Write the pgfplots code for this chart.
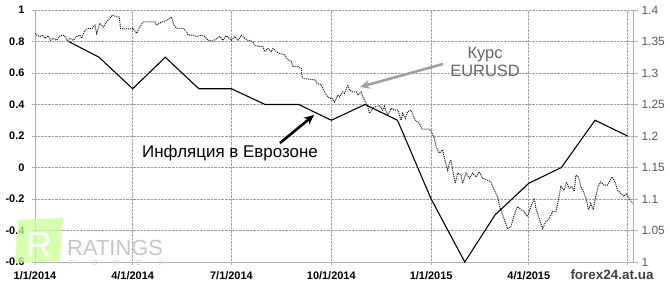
\documentclass[border=0pt]{standalone}
\usepackage{fontspec}
\setmainfont{Liberation Sans}
\usepackage{pgfplots}
\usepackage{pgfplotstable}
\pgfplotsset{compat=1.18}
\usetikzlibrary{arrows.meta}

\pgfplotstableread{
day infl
31 0.8
59 0.7
90 0.5
120 0.7
151 0.5
181 0.5
212 0.4
243 0.4
273 0.3
304 0.4
334 0.3
365 -0.2
396 -0.6
424 -0.3
455 -0.1
485 0.0
516 0.3
546 0.2
}\inflation

\pgfplotstableread{
day rate
0 1.363
1.6 1.360
4.6 1.358
7.6 1.360
9.2 1.355
12.2 1.359
14.4 1.352
16.8 1.355
20.0 1.352
23.0 1.359
26.0 1.360
28.2 1.357
29.7 1.351
32.2 1.355
35.2 1.352
38.4 1.358
41.4 1.360
43.0 1.355
46.0 1.368
49.0 1.371
52.2 1.370
55.2 1.376
56.8 1.363
59.8 1.379
62.8 1.373
66.0 1.381
69.0 1.387
71.5 1.392
75.2 1.389
77.6 1.389
78.8 1.371
82.8 1.370
87.4 1.370
90.4 1.371
93.6 1.363
96.6 1.373
99.6 1.381
104.2 1.381
110.4 1.381
112.0 1.376
116.6 1.381
121.2 1.383
124.2 1.387
125.8 1.389
127.9 1.376
130.4 1.371
136.4 1.371
139.6 1.366
141.0 1.360
145.6 1.360
148.8 1.358
153.4 1.360
156.4 1.358
159.4 1.352
164.0 1.351
167.7 1.355
170.2 1.358
173.2 1.352
176.4 1.359
181.0 1.352
184.0 1.358
187.0 1.352
190.2 1.360
193.2 1.355
196.2 1.352
200.8 1.350
202.4 1.344
207.0 1.342
210.0 1.342
211.6 1.334
214.6 1.339
217.8 1.334
219.2 1.339
222.4 1.334
225.4 1.331
230.0 1.329
233.0 1.321
236.2 1.318
237.6 1.310
242.2 1.310
245.4 1.307
246.3 1.292
253.0 1.290
258.5 1.289
259.7 1.284
263.8 1.281
265.9 1.273
268.4 1.265
271.4 1.260
274.1 1.259
276.0 1.254
279.0 1.265
280.6 1.262
283.6 1.270
285.2 1.268
288.2 1.281
289.8 1.273
292.8 1.270
296.0 1.270
297.4 1.265
300.6 1.270
302.0 1.262
306.6 1.247
308.2 1.236
311.2 1.244
314.4 1.247
317.4 1.248
320.4 1.241
322.0 1.247
325.0 1.233
328.2 1.244
331.2 1.241
334.2 1.241
337.3 1.225
338.8 1.236
341.3 1.228
343.4 1.239
346.6 1.241
349.6 1.228
351.7 1.223
354.2 1.220
356.7 1.211
363.4 1.211
365.9 1.204
368.0 1.196
369.5 1.183
372.6 1.173
375.6 1.178
377.2 1.165
380.2 1.146
381.8 1.157
383.3 1.162
384.8 1.146
387.3 1.125
389.4 1.141
392.5 1.138
394.0 1.125
397.2 1.141
400.2 1.133
403.2 1.141
406.3 1.135
409.4 1.143
412.4 1.133
417.0 1.130
420.1 1.127
423.2 1.114
426.2 1.104
427.8 1.090
430.8 1.075
435.4 1.053
438.5 1.056
441.6 1.075
444.6 1.088
447.7 1.083
450.8 1.080
453.8 1.072
456.9 1.088
460.0 1.101
461.5 1.085
464.6 1.069
467.6 1.053
470.7 1.064
473.8 1.069
476.8 1.080
479.9 1.080
482.3 1.098
484.5 1.120
487.6 1.114
489.7 1.127
492.2 1.117
494.7 1.120
496.8 1.112
498.4 1.138
500.8 1.135
502.9 1.120
506.0 1.109
508.1 1.098
509.9 1.083
512.1 1.093
514.3 1.083
516.7 1.104
518.9 1.120
521.3 1.127
524.4 1.122
527.4 1.122
531.5 1.135
534.5 1.127
536.6 1.114
539.7 1.109
542.7 1.104
544.9 1.109
547.4 1.101
550.4 1.093
}\eurusd

\begin{document}
\begin{tikzpicture}[x=1bp,y=1bp]

\begin{axis}[name=main, scale only axis,
  width=598bp, height=252bp,
  xmin=0, xmax=551, ymin=-0.6, ymax=1,
  axis x line*=bottom, axis y line*=left,
  xtick={0,90,181,273,365,455,546},
  xticklabels={1/1/2014,4/1/2014,7/1/2014,10/1/2014,1/1/2015,4/1/2015,{}},
  ytick={-0.6,-0.4,-0.2,0,0.2,0.4,0.6,0.8,1},
  yticklabels={-0.6,-0.4,-0.2,0,0.2,0.4,0.6,0.8,1},
  grid=major,
  major grid style={densely dotted, gray!75, line width=0.7pt},
  axis line style={gray!60, line width=0.8pt},
  tick style={gray!60, line width=0.8pt},
  tick align=outside, major tick length=3bp,
  ticklabel style={font=\fontsize{11}{12}\selectfont\bfseries},
  xticklabel style={yshift=-3bp},
  yticklabel style={xshift=-4bp},
  clip=false,
]
\addplot[black, line width=1.1pt] table[x=day, y=infl] {\inflation};
\coordinate (SW) at (rel axis cs:0,0);
\end{axis}

\begin{axis}[at={(SW)}, anchor=south west, scale only axis,
  width=598bp, height=252bp,
  xmin=0, xmax=551, ymin=1, ymax=1.4,
  axis x line=none, axis y line*=right,
  ytick={1,1.05,1.1,1.15,1.2,1.25,1.3,1.35,1.4},
  yticklabels={1,1.05,1.1,1.15,1.2,1.25,1.3,1.35,1.4},
  axis line style={gray!60, line width=0.8pt},
  tick style={gray!60, line width=0.8pt},
  tick align=outside, major tick length=5bp,
  yticklabel style={font=\fontsize{12}{13}\selectfont, text=black!65},
]
\addplot[black!90, densely dotted, line width=1pt] table[x=day, y=rate] {\eurusd};
\end{axis}

\begin{scope}[shift={(SW)}, xshift=-35bp, yshift=-28bp]
% picture frame 670 x 290
\path (0,0) rectangle (670,290);
% logo
\fill[green!50!yellow!40!white, opacity=0.75] (15,27) -- (60,29) -- (63,72) -- (18,70) -- cycle;
\node[anchor=base, font=\fontsize{36}{36}\selectfont, white] at (39,33) {R};
\node[anchor=base west, inner sep=0, font=\fontsize{22}{22}\selectfont, gray!45] at (67,35) {RATINGS};
\foreach \xx/\ll in {72/F,95/O,117/R,139/E,161/X}
  \node[anchor=base, inner sep=0, font=\fontsize{7}{7}\selectfont, gray!40] at (\xx,25) {\ll};
% annotations
\draw[gray!75, line width=2.6pt, -{Stealth[length=10bp, width=9bp]}] (443,226) -- (360,203);
\draw[black, line width=2.6pt, -{Stealth[length=10bp, width=9bp]}] (280,147) -- (314,175);
\node[align=center, font=\fontsize{16.5}{18}\selectfont, text=black!60, inner sep=0] at (485,228) {Курс\\EURUSD};
\node[anchor=base west, inner sep=0, font=\fontsize{17}{18}\selectfont] at (142,133) {Инфляция в Еврозоне};
% watermark
\node[inner sep=1bp, font=\fontsize{13.5}{14}\selectfont\bfseries, text=black!75] at (612,15) {forex24.at.ua};
\end{scope}
\end{tikzpicture}
\end{document}
